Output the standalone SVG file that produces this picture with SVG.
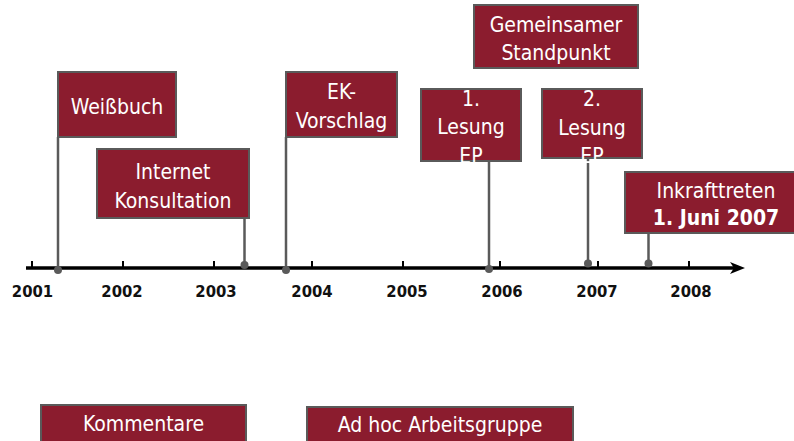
<svg xmlns="http://www.w3.org/2000/svg" width="794" height="441" viewBox="0 0 794 441">
<style>
.box{fill:#8b1c2e;stroke:#5a5a5a;stroke-width:2}
.t{font-family:"DejaVu Sans Condensed","DejaVu Sans",sans-serif;font-stretch:condensed;font-size:21px;fill:#ffffff;text-anchor:middle}
.b{font-weight:bold}
.yr{font-family:"DejaVu Sans Condensed","DejaVu Sans",sans-serif;font-stretch:condensed;font-weight:bold;font-size:16.5px;fill:#111;text-anchor:middle}
.pole{stroke:#5a5a5a;stroke-width:2.5;fill:none}
.dot{fill:#5a5a5a}
.tick{stroke:#000;stroke-width:2}
</style>
<rect width="794" height="441" fill="#ffffff"/>
<g id="axis">
<line x1="26" y1="268" x2="736" y2="268" stroke="#000" stroke-width="3.5"/>
<polygon points="745,268 730,262 734,268 730,274" fill="#000"/>
<line class="tick" x1="32" y1="261" x2="32" y2="268"/>
<line class="tick" x1="123" y1="261" x2="123" y2="268"/>
<line class="tick" x1="214" y1="261" x2="214" y2="268"/>
<line class="tick" x1="312" y1="261" x2="312" y2="268"/>
<line class="tick" x1="403" y1="261" x2="403" y2="268"/>
<line class="tick" x1="500" y1="261" x2="500" y2="268"/>
<line class="tick" x1="598" y1="261" x2="598" y2="268"/>
<line class="tick" x1="689" y1="261" x2="689" y2="268"/>
<text class="yr" x="32.5" y="297">2001</text>
<text class="yr" x="122" y="297">2002</text>
<text class="yr" x="216" y="297">2003</text>
<text class="yr" x="312" y="297">2004</text>
<text class="yr" x="407" y="297">2005</text>
<text class="yr" x="502" y="297">2006</text>
<text class="yr" x="597" y="297">2007</text>
<text class="yr" x="691" y="297">2008</text>
</g>
<g id="connectors">
<line class="pole" x1="58" y1="137" x2="58" y2="270"/>
<circle class="dot" cx="58" cy="270" r="4"/>
<line class="pole" x1="244.5" y1="218" x2="244.5" y2="265"/>
<circle class="dot" cx="244.5" cy="265" r="4"/>
<line class="pole" x1="286" y1="137" x2="286" y2="270"/>
<circle class="dot" cx="286" cy="270" r="4"/>
<line class="pole" x1="489" y1="161" x2="489" y2="269"/>
<circle class="dot" cx="489" cy="269" r="4"/>
<line class="pole" x1="588" y1="158" x2="588" y2="263.5"/>
<circle class="dot" cx="588" cy="263.5" r="4"/>
<line class="pole" x1="648.5" y1="233" x2="648.5" y2="263.5"/>
<circle class="dot" cx="648.5" cy="263.5" r="4"/>
</g>
<g id="weissbuch">
<rect class="box" x="58" y="72" width="118" height="65"/>
<text class="t" x="117" y="114">Weißbuch</text>
</g>
<g id="internet">
<rect class="box" x="97" y="149" width="152" height="69"/>
<text class="t" x="173" y="179">Internet</text>
<text class="t" x="173" y="207.5">Konsultation</text>
</g>
<g id="ek">
<rect class="box" x="286" y="72" width="111" height="65"/>
<text class="t" x="341.5" y="99">EK-</text>
<text class="t" x="341.5" y="128">Vorschlag</text>
</g>
<g id="lesung1">
<rect class="box" x="421" y="89" width="100" height="72"/>
<text class="t" x="471" y="106">1.</text>
<text class="t" x="471" y="134">Lesung</text>
<text class="t" x="471" y="163">EP</text>
</g>
<g id="gemeinsam">
<rect class="box" x="474" y="5" width="164" height="63"/>
<text class="t" x="556" y="31.5">Gemeinsamer</text>
<text class="t" x="556" y="60">Standpunkt</text>
</g>
<g id="lesung2">
<rect class="box" x="542" y="89" width="100" height="69"/>
<text class="t" x="592" y="106">2.</text>
<text class="t" x="592" y="135">Lesung</text>
<text class="t" x="592" y="163">EP</text>
</g>
<g id="inkraft">
<rect class="box" x="625" y="172" width="185" height="61"/>
<text class="t" x="716" y="198">Inkrafttreten</text>
<text class="t b" x="716" y="225">1. Juni 2007</text>
</g>
<g id="kommentare">
<rect class="box" x="41" y="405" width="205" height="50"/>
<text class="t" x="143.5" y="431">Kommentare</text>
</g>
<g id="adhoc">
<rect class="box" x="307" y="407" width="266" height="50"/>
<text class="t" x="440" y="432">Ad hoc Arbeitsgruppe</text>
</g>
</svg>
